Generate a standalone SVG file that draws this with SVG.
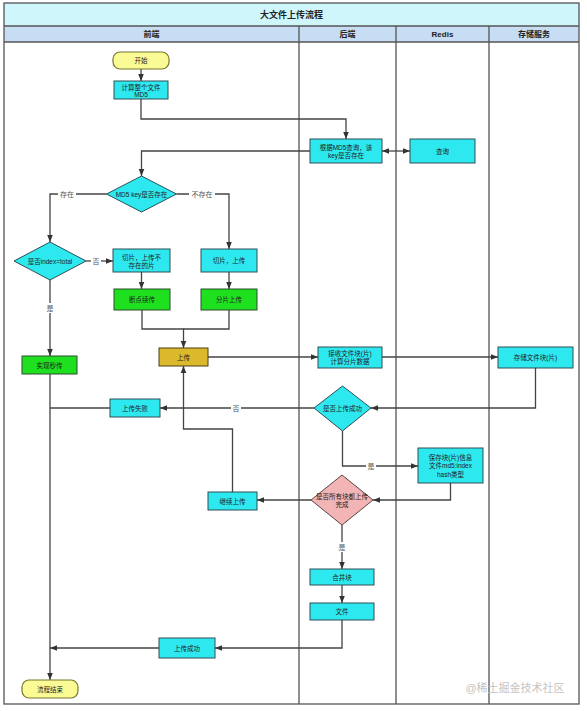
<svg xmlns="http://www.w3.org/2000/svg" width="587" height="711" viewBox="0 0 587 711">
<style>
text{font-family:"Liberation Sans","Noto Sans CJK SC",sans-serif;fill:#222;text-anchor:middle;dominant-baseline:central}
.n{font-size:6.5px}
.lbl{font-size:7px;fill:#555}
.cy{fill:#2ee8f0;stroke:#2f4f55;stroke-width:1}
.gr{fill:#1fe01f;stroke:#2f4f2f;stroke-width:1}
.go{fill:#dcb82c;stroke:#4a3f10;stroke-width:1}
.te{fill:#fbfb96;stroke:#77772e;stroke-width:1.2}
.pk{fill:#f2b4b4;stroke:#5a4545;stroke-width:1}
.c path{fill:none;stroke:#444;stroke-width:1.3}
.lane{stroke:#555;stroke-width:1.3;fill:none}
.lb{fill:#fff}
</style>
<defs>
<marker id="arr" viewBox="0 0 10 10" refX="10" refY="5" markerWidth="7" markerHeight="7" orient="auto-start-reverse" markerUnits="userSpaceOnUse"><path d="M0,1 L10,5 L0,9 z" fill="#333"/></marker>
</defs>
<rect width="587" height="711" fill="#fff"/>
<g id="pool">
<rect x="4" y="3" width="575" height="23" fill="#cff6fb"/>
<rect x="4" y="26" width="575" height="16" fill="#c6ddf4"/>
<rect x="4" y="3" width="575" height="701" class="lane"/>
<path class="lane" d="M4,26 H579 M4,42 H579 M299,26 V704 M396,26 V704 M489,26 V704"/>
<text x="291.5" y="14.5" style="font-size:9px;font-weight:bold">大文件上传流程</text>
<text x="151.5" y="34" style="font-size:8px;font-weight:bold">前端</text>
<text x="347.5" y="34" style="font-size:8px;font-weight:bold">后端</text>
<text x="442.5" y="34" style="font-size:8px;font-weight:bold">Redis</text>
<text x="534" y="34" style="font-size:8px;font-weight:bold">存储服务</text>
</g>
<g class="c" id="connectors">
<path d="M141,69 V81" marker-end="url(#arr)"/>
<path d="M141,99 V119 H346 V139" marker-end="url(#arr)"/>
<path d="M382,151 H410" marker-start="url(#arr)" marker-end="url(#arr)"/>
<path d="M310,151 H141.5 V176" marker-end="url(#arr)"/>
<path d="M106.5,194 H50 V242" marker-end="url(#arr)"/>
<path d="M176.5,194 H229 V249" marker-end="url(#arr)"/>
<path d="M86,261 H113" marker-end="url(#arr)"/>
<path d="M50,280 V356" marker-end="url(#arr)"/>
<path d="M141.5,272 V289" marker-end="url(#arr)"/>
<path d="M229,272 V289" marker-end="url(#arr)"/>
<path d="M142,310 V329 H183.5 V348" marker-end="url(#arr)"/>
<path d="M229,310 V329 H183.5"/>
<path d="M208,357 H318" marker-end="url(#arr)"/>
<path d="M382,357 H498" marker-end="url(#arr)"/>
<path d="M535.5,368 V408 H371" marker-end="url(#arr)"/>
<path d="M314,408 H160" marker-end="url(#arr)"/>
<path d="M110,408 H50"/>
<path d="M342.5,431 V466 H418" marker-end="url(#arr)"/>
<path d="M450.5,483 V500 H373" marker-end="url(#arr)"/>
<path d="M311,500 H257" marker-end="url(#arr)"/>
<path d="M232.5,492 V429 H183.5 V366" marker-end="url(#arr)"/>
<path d="M342,525 V569" marker-end="url(#arr)"/>
<path d="M342,585 V603" marker-end="url(#arr)"/>
<path d="M342,620 V648 H215" marker-end="url(#arr)"/>
<path d="M159,648 H50" marker-end="url(#arr)"/>
<path d="M50,374 V680" marker-end="url(#arr)"/>
<rect class="lb" x="58" y="189" width="18" height="10"/><text class="lbl" x="67" y="194">存在</text>
<rect class="lb" x="189" y="189" width="26" height="10"/><text class="lbl" x="202" y="194">不存在</text>
<rect class="lb" x="91" y="256" width="10" height="10"/><text class="lbl" x="96" y="261">否</text>
<rect class="lb" x="45" y="303" width="10" height="10"/><text class="lbl" x="50" y="308">是</text>
<rect class="lb" x="231" y="403" width="10" height="10"/><text class="lbl" x="236" y="408">否</text>
<rect class="lb" x="366" y="461" width="10" height="10"/><text class="lbl" x="371" y="466">是</text>
<rect class="lb" x="337" y="542" width="10" height="10"/><text class="lbl" x="342" y="547">是</text>
</g>
<g id="start"><rect class="te" x="113" y="52" width="56" height="17" rx="7"/><text class="n" x="141" y="60.5">开始</text></g>
<g id="md5calc"><rect class="cy" x="114" y="81" width="54" height="18"/><text class="n" x="141" y="87">计算整个文件</text><text class="n" x="141" y="94">MD5</text></g>
<g id="query"><rect class="cy" x="310" y="139" width="72" height="24"/><text class="n" x="346" y="147">根据MD5查询，该</text><text class="n" x="346" y="155">key是否存在</text></g>
<g id="redisQuery"><rect class="cy" x="410" y="139" width="65" height="24"/><text class="n" x="442.5" y="151">查询</text></g>
<g id="d1"><polygon class="cy" points="141.5,176 176.5,194 141.5,212 106.5,194"/><text class="n" x="141.5" y="194">MD5 key是否存在</text></g>
<g id="d2"><polygon class="cy" points="50,242 86,261 50,280 14,261"/><text class="n" x="50" y="261">是否index=total</text></g>
<g id="slice1"><rect class="cy" x="113" y="249" width="57" height="23"/><text class="n" x="141.5" y="257">切片，上传不</text><text class="n" x="141.5" y="265">存在的片</text></g>
<g id="slice2"><rect class="cy" x="201" y="249" width="56" height="23"/><text class="n" x="229" y="260.5">切片，上传</text></g>
<g id="resume"><rect class="gr" x="114" y="289" width="56" height="21"/><text class="n" x="142" y="299.5">断点续传</text></g>
<g id="chunk"><rect class="gr" x="201" y="289" width="56" height="21"/><text class="n" x="229" y="299.5">分片上传</text></g>
<g id="upload"><rect class="go" x="159" y="348" width="49" height="18"/><text class="n" x="183.5" y="357">上传</text></g>
<g id="instant"><rect class="gr" x="22" y="356" width="55" height="18"/><text class="n" x="49.5" y="365">实现秒传</text></g>
<g id="receive"><rect class="cy" x="318" y="347" width="64" height="21"/><text class="n" x="350" y="353.5">接收文件块(片)</text><text class="n" x="350" y="361.5">计算分片数据</text></g>
<g id="store"><rect class="cy" x="498" y="347" width="75" height="21"/><text class="n" x="535.5" y="357.5">存储文件块(片)</text></g>
<g id="d3"><polygon class="cy" points="342.5,386 371,408 342.5,431 314,408"/><text class="n" x="342.5" y="408">是否上传成功</text></g>
<g id="fail"><rect class="cy" x="110" y="399" width="50" height="18"/><text class="n" x="135" y="408">上传失败</text></g>
<g id="save"><rect class="cy" x="418" y="448" width="65" height="35"/><text class="n" x="450.5" y="457">保存块(片)信息</text><text class="n" x="450.5" y="465.5">文件md5:index</text><text class="n" x="450.5" y="474">hash类型</text></g>
<g id="d4"><polygon class="pk" points="342,475 373,500 342,525 311,500"/><text class="n" x="342" y="496">是否所有块都上传</text><text class="n" x="342" y="504">完成</text></g>
<g id="cont"><rect class="cy" x="208" y="492" width="49" height="18"/><text class="n" x="232.5" y="501">继续上传</text></g>
<g id="merge"><rect class="cy" x="310" y="569" width="64" height="16"/><text class="n" x="342" y="577">合并块</text></g>
<g id="file"><rect class="cy" x="310" y="603" width="64" height="17"/><text class="n" x="342" y="611.5">文件</text></g>
<g id="success"><rect class="cy" x="159" y="638" width="56" height="20"/><text class="n" x="187" y="648">上传成功</text></g>
<g id="end"><rect class="te" x="22" y="680" width="56" height="18" rx="7"/><text class="n" x="50" y="689">流程结束</text></g>
<text x="515" y="688" style="font-size:11px;fill:#c4c4c4">@稀土掘金技术社区</text>
</svg>
